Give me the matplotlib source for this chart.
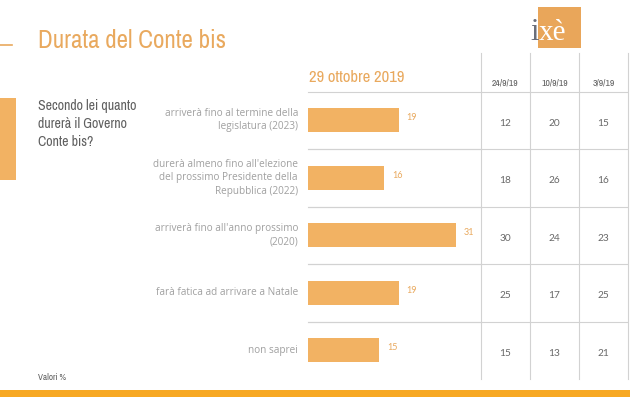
import matplotlib
matplotlib.use('Agg')
import matplotlib.pyplot as plt
from matplotlib.patches import Rectangle
from matplotlib import font_manager

# data
categories = [
    "arriverà fino al termine della\nlegislatura (2023)",
    "durerà almeno fino all'elezione\ndel prossimo Presidente della\nRepubblica (2022)",
    "arriverà fino all'anno prossimo\n(2020)",
    "farà fatica ad arrivare a Natale",
    "non saprei",
]
current = [19, 16, 31, 19, 15]
past_dates = ["24/9/19", "10/9/19", "3/9/19"]
past_values = [
    [12, 20, 15],
    [18, 26, 16],
    [30, 24, 23],
    [25, 17, 25],
    [15, 13, 21],
]

# look for a condensed face for the headings
narrow, narrow_stretch = 'DejaVu Sans', 'normal'
for f in font_manager.fontManager.ttflist:
    nm = f.name.lower()
    if 'condensed' in nm or 'narrow' in nm:
        narrow, narrow_stretch = f.name, 'normal'
        break
    if str(f.stretch) in ('condensed', 'semi-condensed', 'extra-condensed'):
        narrow, narrow_stretch = f.name, f.stretch
NARROW = dict(family=narrow, fontstretch=narrow_stretch)
plt.rcParams['font.family'] = 'Open Sans'

ORANGE = '#E9A95E'
BAR = '#F2B263'
BAND = '#F7A823'
GREY = '#5F5F5F'
LIGHT = '#A0A0A0'
LINE = '#D2D2D2'

W, H = 630, 397


def box(x0, y0, x1, y1):
    # pixel box (top-left origin) -> figure fraction rect
    return [x0 / W, 1 - y1 / H, (x1 - x0) / W, (y1 - y0) / H]


def px(x, y):
    return x / W, 1 - y / H


fig = plt.figure(figsize=(6.3, 3.97), dpi=100)
fig.patch.set_facecolor('white')

n = len(categories)
rows = list(range(n))

# bars
ax = fig.add_axes(box(308, 91.5, 481, 379))
ax.barh(rows, current, height=0.41, color=BAR)
ax.set_xlim(0, 36.3)
ax.set_ylim(n - 0.5, -0.5)
ax.axis('off')
for i, v in enumerate(current):
    ax.text(v + 1.6, i - 0.04, str(v), color=ORANGE, fontsize=6.5,
            va='center', ha='left', family='Lato')
    ax.text(-2.1, i, categories[i], color=LIGHT, fontsize=7.2,
            va='center', ha='right', linespacing=1.3, family='Open Sans')
for b in [r - 0.5 for r in rows]:
    ax.axhline(b, color=LINE, lw=0.8, clip_on=False)
for b in [r + 0.5 for r in rows[:-1]]:
    ax.axhline(b, color=LINE, lw=0.8)

# table of earlier surveys
top_row = -0.5 - (91.5 - 53) / 57.5
tx = fig.add_axes(box(481, 53, 628, 379))
tx.set_xlim(-0.5, len(past_dates) - 0.5)
tx.set_ylim(n - 0.5, top_row)
tx.axis('off')
for c in range(len(past_dates) + 1):
    tx.axvline(c - 0.5, color=LINE, lw=0.8, clip_on=False)
for b in [r - 0.5 for r in rows]:
    tx.axhline(b, color=LINE, lw=0.8)
for j, d in enumerate(past_dates):
    tx.text(j, -0.65, d, color=GREY, fontsize=7, ha='center', va='center',
            **NARROW)
for i, vals in enumerate(past_values):
    for j, v in enumerate(vals):
        tx.text(j, i + 0.05, str(v), color='#686868', fontsize=7.3,
                ha='center', va='center', family='Lato')

# titles and notes
fig.text(*px(38, 40), "Durata del Conte bis", color=ORANGE, fontsize=18,
         va='center', ha='left', **NARROW)
fig.text(*px(309, 77), "29 ottobre 2019", color=ORANGE, fontsize=12,
         va='center', ha='left', **NARROW)
fig.text(*px(38, 99), "Secondo lei quanto\ndurerà il Governo\nConte bis?",
         color=GREY, fontsize=10, va='top', ha='left', linespacing=1.35,
         **NARROW)
fig.text(*px(38, 378), "Valori %", color=GREY, fontsize=6.5,
         va='center', ha='left', **NARROW)

# decorations
fig.add_artist(plt.Line2D([0, 12 / W], [1 - 45 / H] * 2, color=ORANGE, lw=1.2))
fig.add_artist(Rectangle(box(0, 98, 16, 180)[:2], 16 / W, 82 / H,
                         transform=fig.transFigure, color=BAR, lw=0))
fig.add_artist(Rectangle(box(0, 390, W, H)[:2], 1, 7 / H,
                         transform=fig.transFigure, color=BAND, lw=0))

# logo
fig.add_artist(Rectangle(box(538, 7, 581, 48)[:2], 43 / W, 41 / H,
                         transform=fig.transFigure, color='#E9A65A', lw=0))
fig.text(*px(530, 40), "i", color='#6B6F7A', fontsize=22, family='Liberation Serif',
         va='baseline', ha='left')
fig.text(*px(539, 40), "xè", color='white', fontsize=21, family='Liberation Serif',
         va='baseline', ha='left')

fig.savefig('out.png', dpi=100)
